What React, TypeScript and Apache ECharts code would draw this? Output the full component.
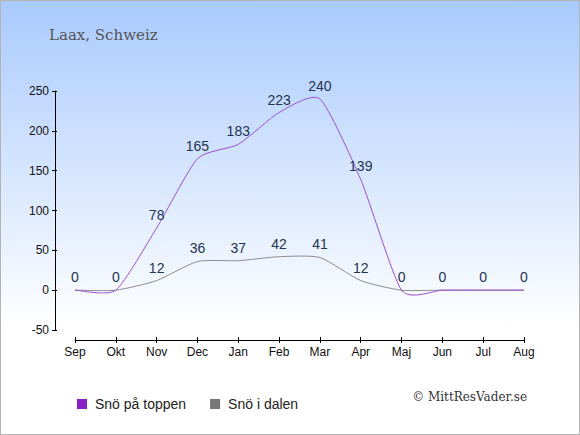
import React, { useEffect, useRef } from "react";
import * as echarts from "echarts";

const months = ["Sep", "Okt", "Nov", "Dec", "Jan", "Feb", "Mar", "Apr", "Maj", "Jun", "Jul", "Aug"];
const snowTop = [0, 0, 78, 165, 183, 223, 240, 139, 0, 0, 0, 0];
const snowValley = [0, 0, 12, 36, 37, 42, 41, 12, 0, 0, 0, 0];
const yTicks = { min: -50, max: 250, interval: 50 };
const TENSION = 0.3;

function curveRenderer(values: number[], color: string) {
  return (params: any, api: any) => {
    const pts = values.map((v, i) => api.coord([i, v]));
    const n = pts.length;
    let d = `M${pts[0][0]},${pts[0][1]}`;
    const tan = (i: number) => {
      const a = pts[Math.max(0, i - 1)];
      const b = pts[Math.min(n - 1, i + 1)];
      return [(b[0] - a[0]) * TENSION, (b[1] - a[1]) * TENSION];
    };
    for (let i = 0; i < n - 1; i++) {
      const p0 = pts[i];
      const p1 = pts[i + 1];
      const m0 = tan(i);
      const m1 = tan(i + 1);
      const c1 = [p0[0] + m0[0] / 3, p0[1] + m0[1] / 3];
      const c2 = [p1[0] - m1[0] / 3, p1[1] - m1[1] / 3];
      d += ` C${c1[0]},${c1[1]} ${c2[0]},${c2[1]} ${p1[0]},${p1[1]}`;
    }
    return {
      type: "path",
      shape: { pathData: d },
      style: { stroke: color, fill: "none", lineWidth: 1 },
      silent: true,
    };
  };
}

export default function App() {
  const ref = useRef<HTMLDivElement>(null);
  useEffect(() => {
    if (!ref.current) return;
    const chart = echarts.init(ref.current, undefined, { renderer: "svg" });
    const labelStyle = {
      show: true,
      position: "top",
      distance: 6,
      color: "#1f3352",
      fontSize: 14,
      fontFamily: "Liberation Sans, Arial, sans-serif",
    };
    const axisLabelFont = { color: "#111", fontSize: 12, fontFamily: "Liberation Sans, Arial, sans-serif" };
    chart.setOption({
      animation: false,
      backgroundColor: {
        type: "linear",
        x: 0,
        y: 0,
        x2: 0,
        y2: 1,
        colorStops: [
          { offset: 0, color: "#a9cafe" },
          { offset: 0.75, color: "#ffffff" },
          { offset: 1, color: "#ffffff" },
        ],
      },
      title: {
        text: "Laax, Schweiz",
        left: 43,
        top: 21,
        textStyle: { color: "#555", fontSize: 15, fontWeight: "normal", fontFamily: "DejaVu Serif, Georgia, serif" },
      },
      legend: {
        left: 71,
        top: 391,
        itemWidth: 10,
        itemHeight: 10,
        itemGap: 24,
        icon: "rect",
        textStyle: {
          color: "#222",
          fontSize: 14,
          fontFamily: "Liberation Sans, Arial, sans-serif",
          padding: [0, 0, 0, 3],
        },
        data: [
          { name: "Snö på toppen", itemStyle: { color: "#8a1fc8" } },
          { name: "Snö i dalen", itemStyle: { color: "#777777" } },
        ],
      },
      graphic: [
        {
          type: "text",
          right: 52,
          top: 390,
          style: {
            text: "© MittResVader.se",
            fill: "#333",
            fontSize: 12,
            fontFamily: "DejaVu Serif, Georgia, serif",
          },
        },
      ],
      grid: { left: 74, right: 55, top: 90, bottom: 104 },
      xAxis: [
        {
          type: "category",
          data: months,
          boundaryGap: false,
          position: "bottom",
          offset: 10,
          axisLine: { show: true, onZero: false, lineStyle: { color: "#000", width: 1 } },
          axisTick: { show: true, inside: true, length: 3, lineStyle: { color: "#000" } },
          axisLabel: { ...axisLabelFont, margin: 6 },
          splitLine: { show: false },
        },
        {
          type: "category",
          data: months,
          boundaryGap: false,
          position: "bottom",
          offset: 10,
          axisLine: { show: false, onZero: false },
          axisTick: { show: true, inside: false, length: 3, lineStyle: { color: "#000" } },
          axisLabel: { show: false },
          splitLine: { show: false },
        },
      ],
      yAxis: [
        {
          type: "value",
          min: yTicks.min,
          max: yTicks.max,
          interval: yTicks.interval,
          offset: 20,
          axisLine: { show: true, onZero: false, lineStyle: { color: "#000", width: 1 } },
          axisTick: { show: true, length: 3, lineStyle: { color: "#000" } },
          axisLabel: { ...axisLabelFont, margin: 6 },
          splitLine: { show: false },
        },
        {
          type: "value",
          min: yTicks.min,
          max: yTicks.max,
          interval: yTicks.interval,
          position: "left",
          offset: 20,
          axisLine: { show: false, onZero: false },
          axisTick: { show: true, inside: true, length: 2, lineStyle: { color: "#000" } },
          axisLabel: { show: false },
          splitLine: { show: false },
        },
      ],
      series: [
        {
          type: "custom",
          xAxisIndex: 0,
          yAxisIndex: 0,
          data: [[0, 0]],
          renderItem: curveRenderer(snowValley, "#8c8c8c"),
          silent: true,
          z: 2,
        },
        {
          type: "custom",
          xAxisIndex: 0,
          yAxisIndex: 0,
          data: [[0, 0]],
          renderItem: curveRenderer(snowTop, "#9b4fd8"),
          silent: true,
          z: 3,
        },
        {
          name: "Snö i dalen",
          type: "line",
          xAxisIndex: 0,
          yAxisIndex: 0,
          data: snowValley,
          showSymbol: true,
          symbol: "circle",
          symbolSize: 0.01,
          lineStyle: { opacity: 0 },
          itemStyle: { color: "#777777" },
          label: {
            ...labelStyle,
            formatter: (p: any) => (snowTop[p.dataIndex] === p.value ? "" : String(p.value)),
          },
          z: 4,
        },
        {
          name: "Snö på toppen",
          type: "line",
          xAxisIndex: 0,
          yAxisIndex: 0,
          data: snowTop,
          showSymbol: true,
          symbol: "circle",
          symbolSize: 0.01,
          lineStyle: { opacity: 0 },
          itemStyle: { color: "#8a1fc8" },
          label: labelStyle,
          z: 5,
        },
      ],
    });
    return () => chart.dispose();
  }, []);
  return (
    <div
      ref={ref}
      style={{
        position: "fixed",
        left: 0,
        top: 0,
        width: 580,
        height: 435,
        boxSizing: "border-box",
        border: "1px solid #b4b4b4",
      }}
    />
  );
}
